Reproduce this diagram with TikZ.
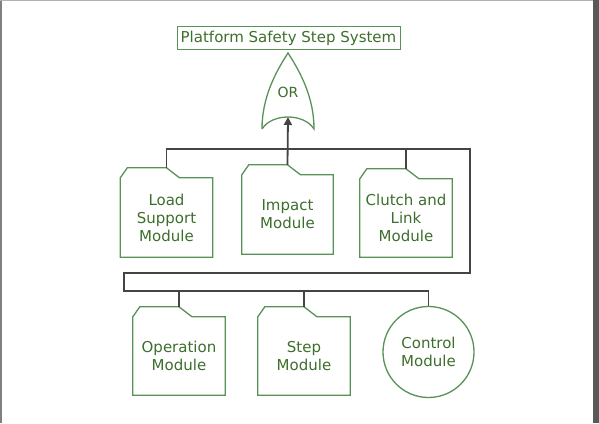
\documentclass[tikz,border=0pt]{standalone}
\usepackage{fontspec}
\setmainfont{DejaVu Sans}
\usetikzlibrary{arrows.meta}

\definecolor{fttext}{RGB}{60,110,44}
\definecolor{ftline}{RGB}{88,146,88}
\definecolor{ftwire}{RGB}{68,68,68}

\tikzset{
  modtext/.style={text=fttext, font=\fontsize{15}{18}\selectfont, align=center, inner sep=0pt},
  module/.style={modtext, minimum width=92pt, minimum height=79pt},
  shapeline/.style={draw=ftline, line width=1.3pt},
  wire/.style={draw=ftwire, line width=1.8pt},
}

% folder outline with a tab, drawn round a named node
\newcommand{\tabfolder}[1]{%
  \draw[shapeline] (#1.south west) -- (#1.north west) -- ++(7,10)
    -- ([yshift=10pt]#1.north) -- ++(13,-10) -- (#1.north east)
    -- (#1.south east) -- cycle;}

\begin{document}
\begin{tikzpicture}[x=1pt,y=1pt]
 \useasboundingbox (0,0) rectangle (599,423);

% screen edges
 \fill[black!65] (593,0) rectangle (599,423);
 \draw[black!50, line width=2pt] (1,0) -- (1,423);
 \draw[black!30, line width=1.5pt] (0,422.5) -- (593,422.5);

% top event
 \node[modtext, draw=ftline, line width=1pt, minimum width=223pt, minimum height=23pt] (top) at (288.5,384.5) {Platform Safety Step System};

% OR gate
 \draw[shapeline] (262,294) .. controls (262,325) and (275,350) .. (288,370)
   .. controls (301,350) and (314,325) .. (314,294)
   .. controls (304,310) and (272,310) .. (262,294);
 \node[modtext, font=\fontsize{14}{16}\selectfont] (or) at (288,331) {OR};
 \coordinate (orin) at (288,306);

% first level modules
 \node[module] (load) at (166.5,205.5) {Load\\Support\\Module};
 \node[module, minimum width=91pt] (impact) at (287.5,208.5) {Impact\\Module};
 \node[module, minimum height=78pt] (clutch) at (406,205) {Clutch and\\Link\\Module};
 \tabfolder{load}
 \tabfolder{impact}
 \tabfolder{clutch}

% second level modules
 \node[module, minimum height=78pt] (oper) at (179,67) {Operation\\Module};
 \node[module, minimum height=78pt] (step) at (304,67) {Step\\Module};
 \node[modtext, circle, shapeline, minimum size=91pt] (control) at (428.5,71) {Control\\Module};
 \tabfolder{oper}
 \tabfolder{step}

% bus lines
 \coordinate (busA) at (470,274);
 \coordinate (busB) at (124,150);
 \coordinate (busC) at (124,132);
 \draw[wire] ([yshift=10pt]load.north) |- (busA) |- (busB) -- (busC) -| (control.north);
 \draw[wire] ([yshift=10pt]clutch.north) -- (clutch.north |- busA);
 \draw[wire] ([yshift=10pt]oper.north) -- (oper.north |- busC);
 \draw[wire] ([yshift=10pt]step.north) -- (step.north |- busC);
 \draw[wire, -{Triangle[width=8pt,length=8pt]}] ([yshift=10pt]impact.north) -- (orin); % into the gate

\end{tikzpicture}
\end{document}
